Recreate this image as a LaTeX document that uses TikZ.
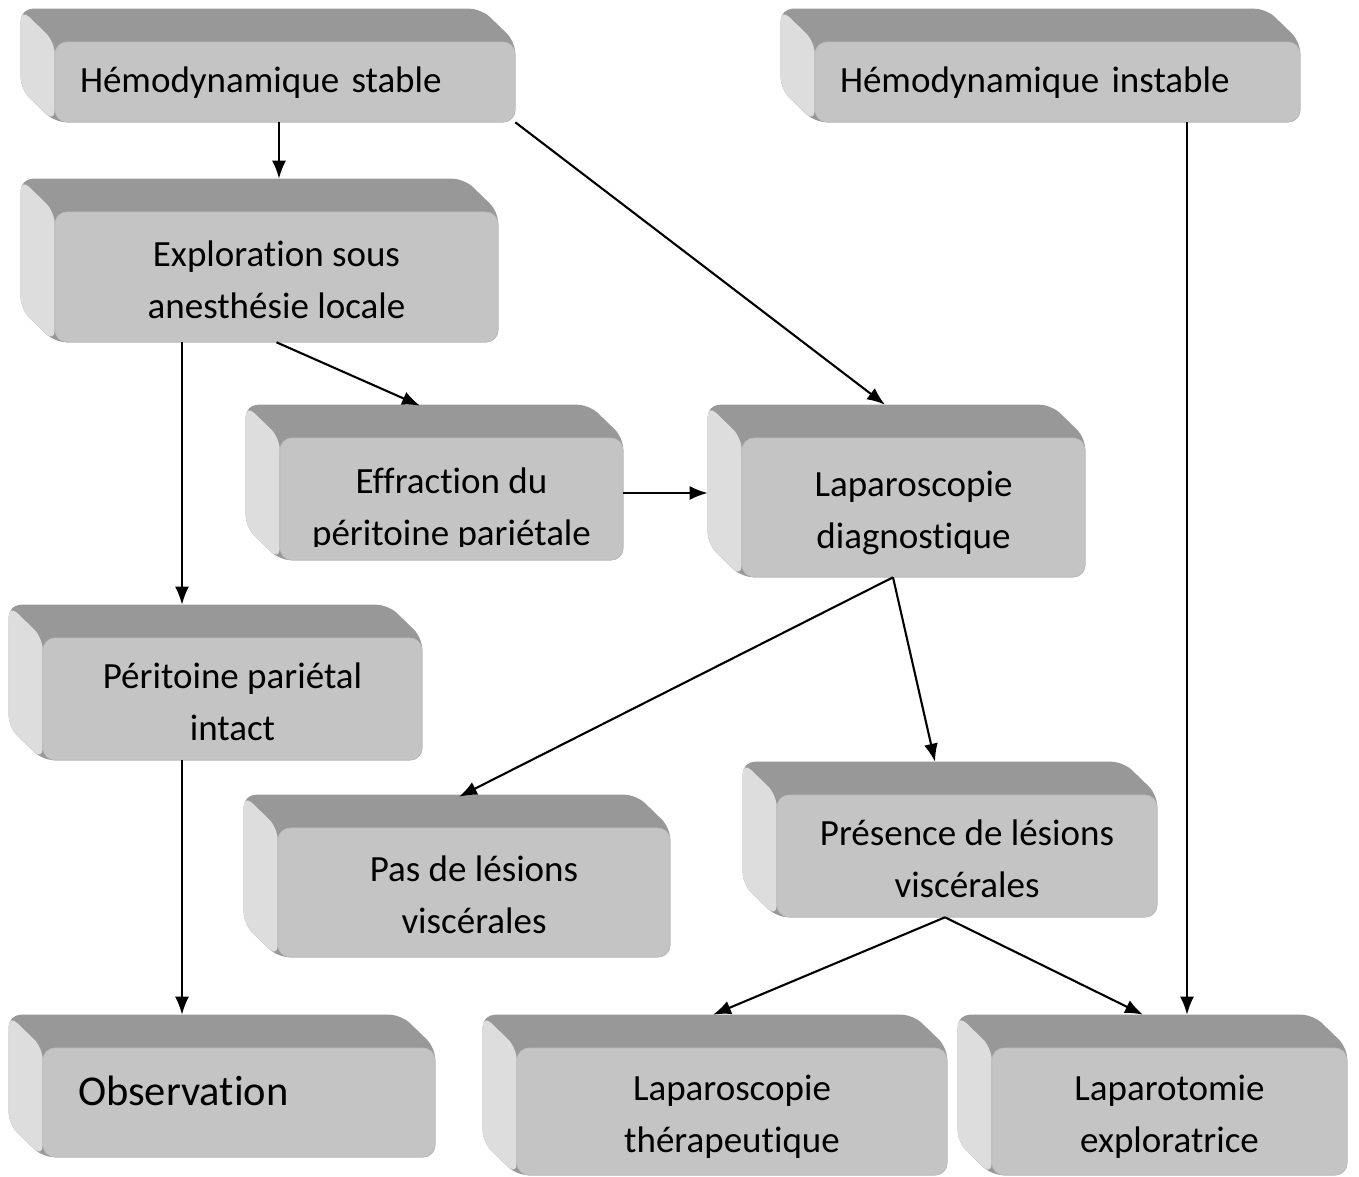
\documentclass[tikz,border=0pt]{standalone}
\usepackage{fontspec}
\setmainfont{Carlito}[Ligatures=NoCommon]
\usetikzlibrary{arrows.meta,backgrounds}

\definecolor{facegray}{HTML}{C4C4C4}
\definecolor{topgray}{HTML}{989898}
\definecolor{sidegray}{HTML}{DDDDDD}
\definecolor{edgegray}{HTML}{BDBDBD}

\begin{document}
\begin{tikzpicture}[x=1pt,y=-1pt,
	face/.style={rectangle, rounded corners=12pt, fill=facegray, draw=edgegray, line width=0.6pt, inner sep=0pt, align=center, text height=86pt, text depth=4pt, font=\fontsize{37}{52}\selectfont},
	oneline/.style={text height=24pt, text depth=4pt, inner xsep=25pt, align=left},
	arr/.style={-{Latex[length=18pt,width=14pt]}, line width=2.1pt}]
	
	\path[use as bounding box] (0,0) rectangle (1359,1176);
	
	\node[face, oneline, minimum width=460pt, minimum height=80pt, text width=410pt] (stable) at (285, 82) {Hémodynamique stable};
	\node[face, oneline, minimum width=485pt, minimum height=80pt, text width=435pt] (instable) at (1057.5, 82) {Hémodynamique instable};
	\node[face, minimum width=443pt, minimum height=130pt] (explo) at (276.5, 277) {Exploration sous\\anesthésie locale};
	\node[face, minimum width=343pt, minimum height=122pt] (effr) at (451.5, 499) {};
	\node[face, minimum width=343pt, minimum height=139pt] (lapdiag) at (913.5, 507.5) {Laparoscopie\\diagnostique};
	\node[face, minimum width=379pt, minimum height=122pt] (intact) at (232.5, 699) {Péritoine pariétal\\intact};
	\node[face, minimum width=392pt, minimum height=129pt] (pasde) at (474, 892.5) {Pas de lésions\\viscérales};
	\node[face, minimum width=380pt, minimum height=122pt] (presence) at (967, 856) {Présence de lésions\\viscérales};
	\node[face, minimum width=392pt, minimum height=109pt, inner xsep=35pt, text width=322pt, align=left, text height=28pt, text depth=23pt, font=\fontsize{42.5}{52}\selectfont] (obs) at (239, 1102.5) {Observation};
	\node[face, minimum width=430pt, minimum height=127pt] (lapther) at (732, 1111.5) {Laparoscopie\\thérapeutique};
	\node[face, minimum width=355pt, minimum height=127pt] (laparot) at (1169.5, 1111.5) {Laparotomie\\exploratrice};
	
	% text of the effraction box is cut by its text area
	\begin{scope}
	\clip (effr.north west) rectangle ([yshift=14pt]effr.south east);
	\node[face, fill=none, draw=none] (effrtext) at (451.5, 504) {Effraction du\\péritoine pariétale};
	\end{scope}
	
	% depth of the boxes
	\begin{scope}[on background layer]
	\foreach \n in {stable,instable,explo,effr,lapdiag,intact,pasde,presence,obs,lapther,laparot} {
		\fill[topgray, rounded corners=12pt] ([xshift=-34pt,yshift=33pt]\n.north west) -- ([xshift=-34pt,yshift=33pt]\n.north east) -- (\n.north east) -- (\n.south east) -- (\n.south west) -- ([xshift=-34pt,yshift=33pt]\n.south west) -- cycle;
		\fill[sidegray, rounded corners=12pt] ([xshift=-34pt,yshift=33pt]\n.north west) -- (\n.north west) -- (\n.south west) -- ([xshift=-34pt,yshift=33pt]\n.south west) -- cycle;
	}
	\end{scope}
	
	\path[arr] ([xshift=-6pt]stable.south) edge ([xshift=2.5pt,yshift=33pt]explo.north);
	\path[arr] (stable.south east) edge ([xshift=-28.5pt,yshift=33pt]lapdiag.north);
	\path[arr] ([xshift=129.5pt]instable.south) edge ([xshift=17.5pt,yshift=33pt]laparot.north);
	\path[arr] ([xshift=-94.5pt]explo.south) edge ([xshift=-50.5pt,yshift=33pt]intact.north);
	\path[arr] (explo.south) edge ([xshift=-31.5pt,yshift=32pt]effr.north);
	\path[arr] ([yshift=6pt]effr.east) edge ([xshift=-34pt,yshift=14.5pt]lapdiag.west);
	\path[arr] ([xshift=-20.5pt]lapdiag.south) edge ([xshift=-15pt,yshift=31pt]pasde.north);
	\path[arr] ([xshift=-20.5pt]lapdiag.south) edge ([xshift=-32pt,yshift=33pt]presence.north);
	\path[arr] ([xshift=-50.5pt]intact.south) edge ([xshift=-57pt,yshift=33pt]obs.north);
	\path[arr] ([xshift=-22pt]presence.south) edge ([xshift=-19pt,yshift=33pt]lapther.north);
	\path[arr] ([xshift=-22pt]presence.south) edge ([xshift=-26.5pt,yshift=33pt]laparot.north);
	
\end{tikzpicture}
\end{document}
